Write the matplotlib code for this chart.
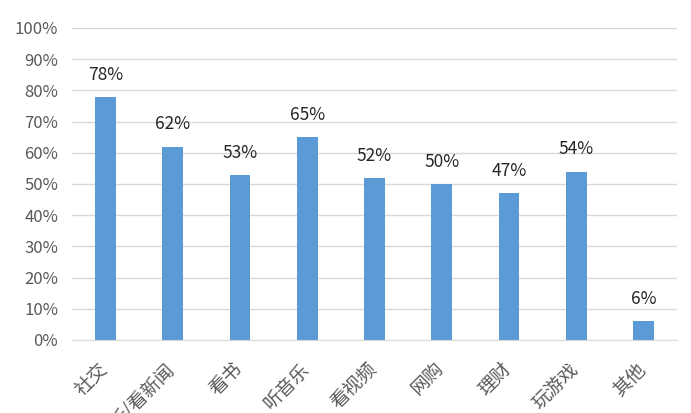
import matplotlib
matplotlib.use("Agg")
import matplotlib.pyplot as plt
import matplotlib.ticker as ticker
import matplotlib.transforms as mtrans

plt.rcParams['font.family'] = ['Noto Sans CJK SC', 'DejaVu Sans']

CATEGORIES = ["社交", "听/看新闻", "看书", "听音乐", "看视频", "网购", "理财", "玩游戏", "其他"]
VALUES = [78, 62, 53, 65, 52, 50, 47, 54, 6]

BAR_COLOR = "#5b9bd5"
GRID_COLOR = "#d9d9d9"
TEXT_GRAY = "#595959"

fig = plt.figure(figsize=(6.91, 4.13), dpi=100)
ax = fig.add_axes([72 / 691, 73 / 413, 605 / 691, 312 / 413])

x = range(len(CATEGORIES))
ax.bar(x, VALUES, width=0.31, color=BAR_COLOR, zorder=3)

for xi, v in zip(x, VALUES):
    ax.text(xi, v + 4.2, f"{v}%", ha="center", va="bottom", fontsize=12.5, color="#262626")

ax.set_xlim(-0.5, len(CATEGORIES) - 0.5)
ax.set_ylim(0, 100)
ax.yaxis.set_major_locator(ticker.MultipleLocator(10))
ax.yaxis.set_major_formatter(ticker.FuncFormatter(lambda v, p: f"{int(v)}%"))
ax.grid(axis="y", color=GRID_COLOR, linewidth=1, zorder=0)

for s in ["top", "right", "left"]:
    ax.spines[s].set_visible(False)
ax.spines["bottom"].set_color(GRID_COLOR)
ax.spines["bottom"].set_zorder(4)

ax.tick_params(axis="both", length=0, colors=TEXT_GRAY)
ax.tick_params(axis="y", pad=10, labelsize=12)
ax.set_xticks(list(x))
ax.set_xticklabels(CATEGORIES, rotation=45, ha="right", va="top", rotation_mode="anchor", fontsize=13.5)
for lab in ax.get_xticklabels():
    lab.set_transform(lab.get_transform() + mtrans.ScaledTranslation(-0.08, -0.14, fig.dpi_scale_trans))

fig.savefig("out.png", dpi=100)
